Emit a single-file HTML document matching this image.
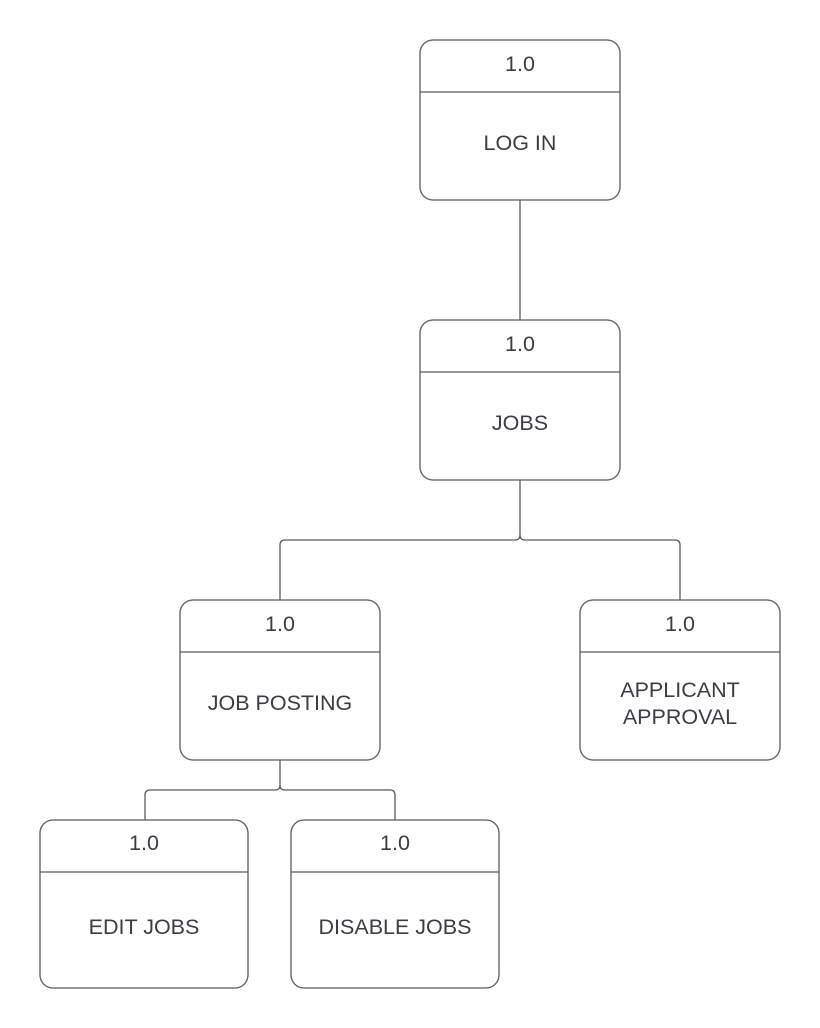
<!DOCTYPE html>
<html><head><style>
html,body{margin:0;padding:0;background:#fff;}
svg{display:block}
text{font-family:"Liberation Sans",sans-serif;font-size:21.5px;fill:#3a3d44;text-anchor:middle;}
</style></head><body>
<svg width="820" height="1028" viewBox="0 0 820 1028" xmlns="http://www.w3.org/2000/svg">
<g fill="none" stroke="#5a5a5a" stroke-width="1.3">
<rect x="420" y="40" width="200" height="160" rx="13"/><line x1="420" y1="92" x2="620" y2="92"/>
<rect x="420" y="320" width="200" height="160" rx="13"/><line x1="420" y1="372" x2="620" y2="372"/>
<rect x="180" y="600" width="200" height="160" rx="13"/><line x1="180" y1="652" x2="380" y2="652"/>
<rect x="580" y="600" width="200" height="160" rx="13"/><line x1="580" y1="652" x2="780" y2="652"/>
<rect x="40" y="820" width="208" height="168" rx="13"/><line x1="40" y1="872" x2="248" y2="872"/>
<rect x="291" y="820" width="208" height="168" rx="13"/><line x1="291" y1="872" x2="499" y2="872"/>
<line x1="520" y1="200" x2="520" y2="320"/>
<path d="M520 480 V535 Q520 540 515 540 H285 Q280 540 280 545 V600"/>
<path d="M520 535 Q520 540 525 540 H675 Q680 540 680 545 V600"/>
<path d="M280 760 V785 Q280 790 275 790 H150 Q145 790 145 795 V820"/>
<path d="M280 785 Q280 790 285 790 H390 Q395 790 395 795 V820"/>
</g>
<text x="520" y="71">1.0</text><text x="520" y="150">LOG IN</text>
<text x="520" y="351">1.0</text><text x="520" y="430">JOBS</text>
<text x="280" y="631">1.0</text><text x="280" y="710">JOB POSTING</text>
<text x="680" y="631">1.0</text><text x="680" y="697">APPLICANT</text><text x="680" y="724">APPROVAL</text>
<text x="144" y="850">1.0</text><text x="144" y="934">EDIT JOBS</text>
<text x="395" y="850">1.0</text><text x="395" y="934">DISABLE JOBS</text>
</svg>
</body></html>
